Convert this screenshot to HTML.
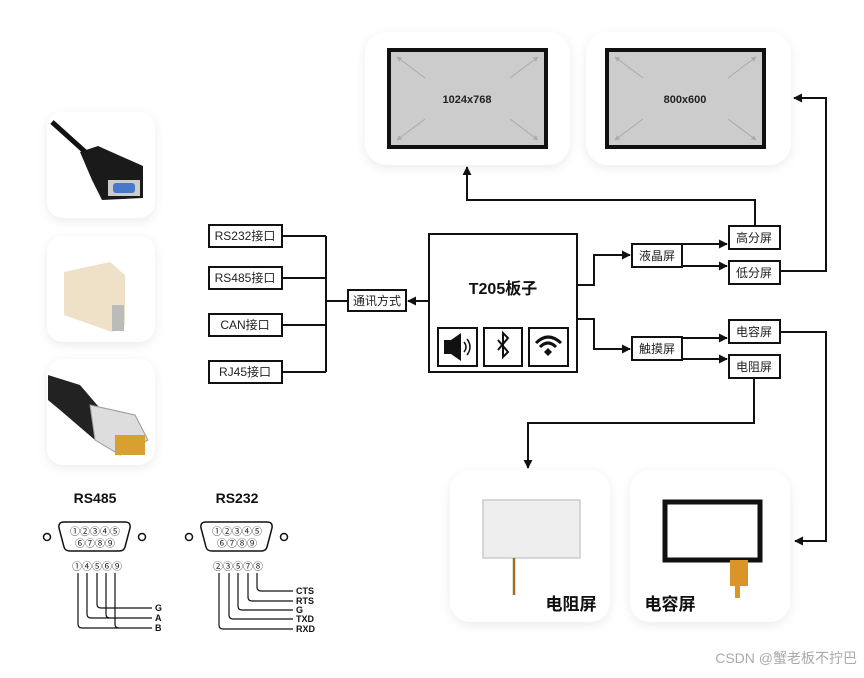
<!DOCTYPE html>
<html><head><meta charset="utf-8"><style>
body{margin:0;background:#fff;width:864px;height:673px;overflow:hidden;font-family:"Liberation Sans","Noto Sans CJK SC",sans-serif}
</style></head><body>
<svg width="864" height="673" viewBox="0 0 864 673" xmlns="http://www.w3.org/2000/svg" font-family="Liberation Sans, Noto Sans CJK SC, sans-serif">
<defs>
<filter id="sh" x="-20%" y="-20%" width="140%" height="140%"><feDropShadow dx="0" dy="3" stdDeviation="5" flood-color="#000" flood-opacity="0.08"/></filter>
<marker id="ar" viewBox="0 0 10 10" refX="9" refY="5" markerWidth="9" markerHeight="9" markerUnits="userSpaceOnUse" orient="auto"><path d="M0,0L10,5L0,10z" fill="#111"/></marker>
<marker id="ga" viewBox="0 0 10 10" refX="9" refY="5" markerWidth="5" markerHeight="5" markerUnits="userSpaceOnUse" orient="auto"><path d="M0,0L10,5L0,10z" fill="#aaa"/></marker>
</defs>
<g fill="#fff" filter="url(#sh)">
<rect x="47" y="112" width="108" height="106" rx="16"/>
<rect x="47" y="236" width="108" height="106" rx="16"/>
<rect x="47" y="359" width="108" height="106" rx="16"/>
<rect x="365" y="32" width="205" height="133" rx="22"/>
<rect x="586" y="32" width="205" height="133" rx="22"/>
<rect x="450" y="470" width="160" height="152" rx="20"/>
<rect x="630" y="470" width="160" height="152" rx="20"/>
</g>
<!-- left images -->
<path d="M52 122 L92 158" stroke="#111" stroke-width="5"/>
<path d="M80 152 L98 146 L143 166 L143 198 L102 200 L92 180z" fill="#1a1a1a"/>
<rect x="108" y="180" width="32" height="16" fill="#ccc"/>
<rect x="113" y="183" width="22" height="10" rx="3" fill="#4a78c8"/>
<path d="M64 272 L110 262 L125 275 L125 325 L112 332 L64 315z" fill="#efe1c8"/>
<rect x="112" y="305" width="12" height="26" fill="#bbb"/>
<path d="M48 375 L80 385 L110 420 L95 440 L60 410 L48 400z" fill="#222"/>
<path d="M90 405 L135 415 L148 440 L120 455 L95 440z" fill="#ddd" stroke="#999" stroke-width="1"/>
<rect x="115" y="435" width="30" height="20" fill="#d8a030"/>
<!-- top screens -->
<rect x="389" y="50" width="157" height="97" fill="#ccc" stroke="#111" stroke-width="4"/>
<rect x="607" y="50" width="157" height="97" fill="#ccc" stroke="#111" stroke-width="4"/>
<g stroke="#aaa" stroke-width="1">
<path d="M425 78L397 57" marker-end="url(#ga)"/><path d="M510 78L538 57" marker-end="url(#ga)"/><path d="M425 119L397 140" marker-end="url(#ga)"/><path d="M510 119L538 140" marker-end="url(#ga)"/>
<path d="M643 78L615 57" marker-end="url(#ga)"/><path d="M728 78L756 57" marker-end="url(#ga)"/><path d="M643 119L615 140" marker-end="url(#ga)"/><path d="M728 119L756 140" marker-end="url(#ga)"/>
</g>
<text x="467" y="103" font-size="11" font-weight="bold" text-anchor="middle" fill="#222">1024x768</text>
<text x="685" y="103" font-size="11" font-weight="bold" text-anchor="middle" fill="#222">800x600</text>
<!-- bottom screens -->
<rect x="483" y="500" width="97" height="58" fill="#eee" stroke="#ccc" stroke-width="1.5"/>
<path d="M514 558V595" stroke="#a07020" stroke-width="2.5"/>
<rect x="665" y="502" width="95" height="58" fill="#fff" stroke="#111" stroke-width="5"/>
<rect x="730" y="560" width="18" height="26" fill="#d9952a"/>
<rect x="735" y="586" width="5" height="12" fill="#d9952a"/>
<text x="571" y="610" font-size="17" font-weight="bold" text-anchor="middle" fill="#111">电阻屏</text>
<text x="670" y="610" font-size="17" font-weight="bold" text-anchor="middle" fill="#111">电容屏</text>
<g fill="#fff" stroke="#111" stroke-width="2">
<rect x="209" y="225" width="73" height="22"/>
<rect x="209" y="267" width="73" height="22"/>
<rect x="209" y="314" width="73" height="22"/>
<rect x="209" y="361" width="73" height="22"/>
<rect x="348" y="290" width="58" height="21"/>
<rect x="429" y="234" width="148" height="138"/>
<rect x="438" y="328" width="39" height="38"/>
<rect x="484" y="328" width="38" height="38"/>
<rect x="529" y="328" width="39" height="38"/>
<rect x="632" y="244" width="50" height="23"/>
<rect x="632" y="337" width="50" height="23"/>
<rect x="729" y="226" width="51" height="23"/>
<rect x="729" y="261" width="51" height="23"/>
<rect x="729" y="320" width="51" height="23"/>
<rect x="729" y="355" width="51" height="23"/>
</g>
<g font-size="12" fill="#222" text-anchor="middle">
<text x="245" y="240">RS232接口</text>
<text x="245" y="282">RS485接口</text>
<text x="245" y="329">CAN接口</text>
<text x="245" y="376">RJ45接口</text>
<text x="377" y="305">通讯方式</text>
<text x="657" y="260">液晶屏</text>
<text x="657" y="353">触摸屏</text>
<text x="754" y="242">高分屏</text>
<text x="754" y="277">低分屏</text>
<text x="754" y="336">电容屏</text>
<text x="754" y="371">电阻屏</text>
</g>
<text x="503" y="294" font-size="16" font-weight="bold" text-anchor="middle" fill="#111">T205板子</text>
<rect x="444" y="340" width="7" height="14" fill="#111"/>
<path d="M451 340L461 333V361L451 354z" fill="#111"/>
<path d="M464 342Q468 347 464 352M467 339Q473 347 467 355" stroke="#111" stroke-width="1.5" fill="none"/>
<path d="M498 340L508 352L503 357V333L508 338L498 350" stroke="#111" stroke-width="2" fill="none"/>
<path d="M536 343Q548 331 561 343M540 347Q548 339 556 347" stroke="#111" stroke-width="3" fill="none"/>
<path d="M544 352L548 348L552 352L548 356z" fill="#111"/>
<g stroke="#111" stroke-width="2" fill="none">
<path d="M282 236H326M282 278H326M282 325H326M282 372H326M326 236V372M326 301H348"/>
<path d="M429 301H408" marker-end="url(#ar)"/>
<path d="M577 285H594V255H630" marker-end="url(#ar)"/>
<path d="M577 319H594V349H630" marker-end="url(#ar)"/>
<path d="M682 244H727" marker-end="url(#ar)"/>
<path d="M682 266H727" marker-end="url(#ar)"/>
<path d="M682 338H727" marker-end="url(#ar)"/>
<path d="M682 359H727" marker-end="url(#ar)"/>
<path d="M755 226V200H467V167" marker-end="url(#ar)"/>
<path d="M780 271H826V98H794" marker-end="url(#ar)"/>
<path d="M780 332H826V541H795" marker-end="url(#ar)"/>
<path d="M754 378V423H528V468" marker-end="url(#ar)"/>
</g>
<text x="95" y="503" font-size="14" font-weight="bold" text-anchor="middle" fill="#111">RS485</text>
<text x="237" y="503" font-size="14" font-weight="bold" text-anchor="middle" fill="#111">RS232</text>
<g stroke="#111" stroke-width="1.5" fill="#fff">
<path d="M64 522H125Q131 522 130 528L125 547Q124 551 119 551H70Q65 551 64 547L59 528Q58 522 64 522z"/>
<path d="M206 522H267Q273 522 272 528L267 547Q266 551 261 551H212Q207 551 206 547L201 528Q200 522 206 522z"/>
<circle cx="47" cy="537" r="3.5"/><circle cx="142" cy="537" r="3.5"/>
<circle cx="189" cy="537" r="3.5"/><circle cx="284" cy="537" r="3.5"/>
</g>
<g font-size="10" fill="#222" text-anchor="middle">
<text x="95" y="535">①②③④⑤</text><text x="95" y="547">⑥⑦⑧⑨</text>
<text x="237" y="535">①②③④⑤</text><text x="237" y="547">⑥⑦⑧⑨</text>
<text x="97" y="570">①④⑤⑥⑨</text>
<text x="238" y="570">②③⑤⑦⑧</text>
</g>
<g stroke="#111" stroke-width="1.2" fill="none">
<path d="M78 573V624Q78 628 82 628H152M87 573V614Q87 618 91 618H152M97 573V604Q97 608 101 608H152M106 573V614Q106 618 110 618M115 573V624Q115 628 119 628"/>
<path d="M219 573V625Q219 629 223 629H293M229 573V615Q229 619 233 619H293M238 573V606Q238 610 242 610H293M248 573V597Q248 601 252 601H293M257 573V587Q257 591 261 591H293"/>
</g>
<g font-size="9" font-weight="bold" fill="#111">
<text x="155" y="611">G</text><text x="155" y="621">A</text><text x="155" y="631">B</text>
<text x="296" y="594">CTS</text><text x="296" y="604">RTS</text><text x="296" y="613">G</text><text x="296" y="622">TXD</text><text x="296" y="632">RXD</text>
</g>
<text x="857" y="663" font-size="14" fill="#aaa" text-anchor="end">CSDN @蟹老板不拧巴</text>
</svg>
</body></html>
